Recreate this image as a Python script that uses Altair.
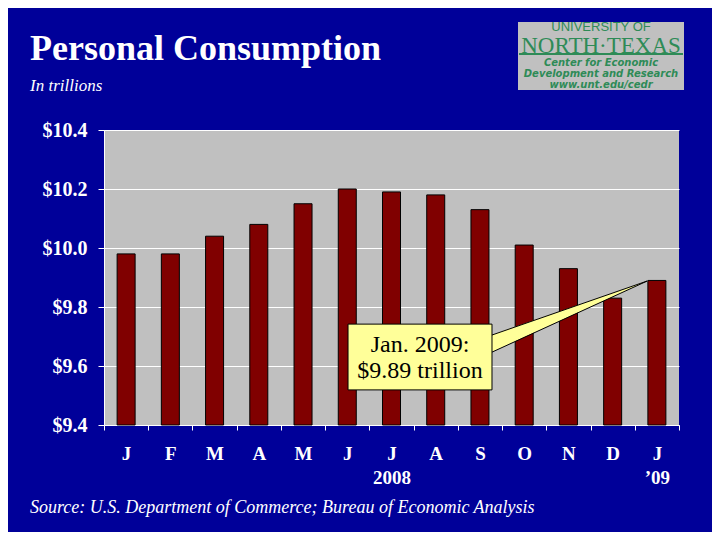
import json
import altair as alt
import pandas as pd

# ---- data ----
month_labels = ["J", "F", "M", "A", "M", "J", "J", "A", "S", "O", "N", "D", "J"]
year_labels = ["", "", "", "", "", "", "2008", "", "", "", "", "", "\u201909"]
values = [9.98, 9.98, 10.04, 10.08, 10.15, 10.20, 10.19, 10.18, 10.13, 10.01, 9.93, 9.83, 9.89]
y_ticks = [9.4, 9.6, 9.8, 10.0, 10.2, 10.4]
y_base = 9.4

title_text = "Personal Consumption"
subtitle_text = "In trillions"
source_text = "Source:  U.S. Department of Commerce; Bureau of Economic Analysis"
callout_lines = ["Jan. 2009:", "$9.89 trillion"]
logo_lines = ["UNIVERSITY OF", "NORTH\u00b7TEXAS", "Center for Economic",
              "Development and Research", "www.unt.edu/cedr"]

df = pd.DataFrame({"i": list(range(len(values))), "v": values})

BG = "#000099"
SERIF = "Liberation Serif"
GREEN = "#2E8B57"

label_arr = [[m, y] if y else [m] for m, y in zip(month_labels, year_labels)]
label_expr = json.dumps(label_arr) + "[datum.value]"

yscale = alt.Scale(domain=[9.4, 10.4], nice=False, zero=False)

bars = alt.Chart(df).mark_bar(size=18, color="#800000", stroke="black", strokeWidth=1).encode(
    x=alt.X("i:O", scale=alt.Scale(paddingInner=0, paddingOuter=0),
            axis=alt.Axis(title=None, labelExpr=label_expr, labelAngle=0, tickBand="extent",
                          tickColor="white", tickSize=5, domainColor="white", domainWidth=1,
                          labelColor="white", labelFont=SERIF, labelFontWeight="bold",
                          labelFontSize=19, labelPadding=14, labelLineHeight=24, grid=False)),
    y=alt.Y("v:Q", scale=yscale,
            axis=alt.Axis(title=None, values=y_ticks, format="$.1f", tickColor="white",
                          tickSize=6, domainColor="white", labelColor="white", labelFont=SERIF,
                          labelFontWeight="bold", labelFontSize=20, labelPadding=11,
                          grid=True, gridColor="white", gridWidth=1)),
    y2=alt.datum(y_base),
)

uscale = alt.Scale(domain=[0, 13], nice=False, zero=False)

# callout (anchored in data units: band index u, value y)
box_df = pd.DataFrame({"u0": [5.517], "u1": [8.772], "y0": [9.742], "y1": [9.519]})
box = alt.Chart(box_df).mark_rect(fill="#FFFF99", stroke="black", strokeWidth=1).encode(
    x=alt.X("u0:Q", scale=uscale, axis=None), x2="u1:Q",
    y=alt.Y("y0:Q", scale=yscale), y2="y1:Q")

wedge_df = pd.DataFrame({"u": [8.76, 12.28], "top": [9.705, 9.888], "bot": [9.647, 9.888]})
wedge = alt.Chart(wedge_df).mark_area(fill="#FFFF99", opacity=1).encode(
    x=alt.X("u:Q", scale=uscale, axis=None),
    y=alt.Y("top:Q", scale=yscale), y2="bot:Q")

edge_df = pd.DataFrame({"ua": [8.772, 8.772], "ya": [9.705, 9.647],
                        "ub": [12.28, 12.28], "yb": [9.888, 9.888]})
edges = alt.Chart(edge_df).mark_rule(color="black", strokeWidth=1).encode(
    x=alt.X("ua:Q", scale=uscale, axis=None), x2="ub:Q",
    y=alt.Y("ya:Q", scale=yscale), y2="yb:Q")

ctext_df = pd.DataFrame({"u": [7.145, 7.145], "y": [9.647, 9.559], "t": callout_lines})
ctext = alt.Chart(ctext_df).mark_text(font=SERIF, fontSize=24, color="black",
                                      align="center", baseline="alphabetic").encode(
    x=alt.X("u:Q", scale=uscale, axis=None),
    y=alt.Y("y:Q", scale=yscale), text="t:N")

one = alt.Data(values=[{}])


def txt(t, x, y, **kw):
    return alt.Chart(one).mark_text(text=t, **kw).encode(x=alt.value(x), y=alt.value(y))


title = txt(title_text, -74, -70, font=SERIF, fontSize=36, fontWeight="bold",
            color="white", align="left", baseline="alphabetic")
subtitle = txt(subtitle_text, -74, -39, font=SERIF, fontSize=17, fontStyle="italic",
               color="white", align="left", baseline="alphabetic")
source = txt(source_text, -74, 383, font=SERIF, fontSize=18, fontStyle="italic",
             color="white", align="left", baseline="alphabetic")

logo_box = alt.Chart(one).mark_rect(fill="#C0C0C0").encode(
    x=alt.value(414), x2=alt.value(580), y=alt.value(-108), y2=alt.value(-40))
logo_rule = alt.Chart(one).mark_rule(color=GREEN, strokeWidth=2).encode(
    x=alt.value(415), x2=alt.value(579), y=alt.value(-76))
logo1 = txt(logo_lines[0], 497, -103, font="Liberation Sans", fontSize=13, color=GREEN,
            align="center", baseline="middle")
logo2 = txt(logo_lines[1], 497, -84.5, font=SERIF, fontSize=23, color=GREEN,
            align="center", baseline="middle")
logo3 = txt(logo_lines[2], 497, -67.5, font="DejaVu Sans", fontSize=10, fontStyle="italic",
            fontWeight="bold", color=GREEN, align="center", baseline="middle")
logo4 = txt(logo_lines[3], 497, -56.5, font="DejaVu Sans", fontSize=10, fontStyle="italic",
            fontWeight="bold", color=GREEN, align="center", baseline="middle")
logo5 = txt(logo_lines[4], 497, -45.5, font="DejaVu Sans", fontSize=10, fontStyle="italic",
            fontWeight="bold", color=GREEN, align="center", baseline="middle")

chart = alt.layer(
    bars, wedge, box, edges, ctext,
    title, subtitle, source, logo_box, logo_rule, logo1, logo2, logo3, logo4, logo5,
).resolve_scale(x="independent").properties(
    width=575, height=295,
    autosize=alt.AutoSizeParams(type="none"),
    padding={"left": 96, "top": 122, "right": 33, "bottom": 107},
    background=BG,
).configure_view(fill="#C0C0C0", stroke=None)

chart.save("out.html", embed_options={"renderer": "svg", "actions": False})
